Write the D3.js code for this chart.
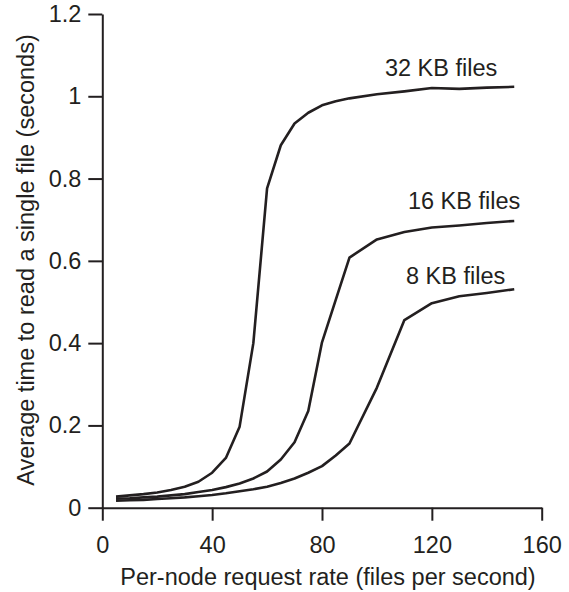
<!DOCTYPE html>
<html>
<head>
<meta charset="utf-8">
<script src="https://cdn.jsdelivr.net/npm/d3@7"></script>
<style>
  body { margin: 0; background: #fff; }
  text { font-family: "Liberation Sans", Arial, sans-serif; fill: #231f20; }
</style>
</head>
<body>
<svg width="569" height="592"></svg>
<script>
let rate = [5, 10, 15, 20, 25, 30, 35, 40, 45, 50, 55, 60, 65, 70, 75, 80, 85, 90, 100, 110, 120, 130, 140, 150];

let kb32 = [0.027, 0.030, 0.033, 0.037, 0.043, 0.051, 0.063, 0.085, 0.121, 0.197, 0.400, 0.776,
  0.881, 0.934, 0.960, 0.978, 0.988, 0.995, 1.005, 1.012, 1.020, 1.018, 1.021, 1.023];
let kb16 = [0.022, 0.023, 0.025, 0.027, 0.030, 0.033, 0.038, 0.043, 0.050, 0.059, 0.071, 0.088,
  0.117, 0.159, 0.235, 0.402, 0.505, 0.608, 0.652, 0.670, 0.681, 0.686, 0.692, 0.697];
let kb8 = [0.017, 0.018, 0.019, 0.021, 0.023, 0.025, 0.028, 0.031, 0.035, 0.040, 0.045, 0.051,
  0.060, 0.071, 0.085, 0.101, 0.127, 0.156, 0.292, 0.456, 0.497, 0.514, 0.522, 0.531];

let seriesNames = ["32 KB files", "16 KB files", "8 KB files"];
let xTicks = [0, 40, 80, 120, 160];
let yTicks = [0, 0.2, 0.4, 0.6, 0.8, 1, 1.2];

let svg = d3.select("svg");
let ink = "#231f20";
let fontSize = "23.5px";

let x = d3.scaleLinear().domain([0, 160]).range([102.3, 541.7]);
let y = d3.scaleLinear().domain([0, 1.2]).range([507.7, 14]);

// axes
let xAxis = svg.append("g")
  .attr("transform", "translate(0,507.7)")
  .call(d3.axisBottom(x).tickValues(xTicks).tickSize(13).tickSizeOuter(0).tickPadding(16).tickFormat(d3.format("d")));
let yAxis = svg.append("g")
  .attr("transform", "translate(102.3,0)")
  .call(d3.axisLeft(y).tickValues(yTicks).tickSize(14).tickSizeOuter(0).tickPadding(7).tickFormat(d => String(+d.toFixed(1))));

[xAxis, yAxis].forEach(function (g) {
  g.selectAll("path, line").attr("stroke", ink).attr("stroke-width", 2);
  g.selectAll("text").style("font-size", fontSize).attr("fill", ink).style("font-family", "Liberation Sans, Arial, sans-serif");
});

// curves
let line = d3.line()
  .x(function (d) { return x(d[0]); })
  .y(function (d) { return y(d[1]); });

let all = [kb32, kb16, kb8];
all.forEach(function (vals) {
  svg.append("path")
    .datum(rate.map(function (r, i) { return [r, vals[i]]; }))
    .attr("fill", "none")
    .attr("stroke", ink)
    .attr("stroke-width", 2.6)
    .attr("stroke-linejoin", "round")
    .attr("d", line);
});

// labels placed relative to the last point of each curve
let labelShift = [[-17, -10.5], [6, -12], [-9, -5.5]];
all.forEach(function (vals, i) {
  let last = vals.length - 1;
  svg.append("text")
    .attr("x", x(rate[last]) + labelShift[i][0])
    .attr("y", y(vals[last]) + labelShift[i][1])
    .attr("text-anchor", "end")
    .style("font-size", fontSize)
    .text(seriesNames[i]);
});

svg.append("text")
  .attr("x", 328)
  .attr("y", 584.5)
  .attr("text-anchor", "middle")
  .style("font-size", fontSize)
  .text("Per-node request rate (files per second)");

svg.append("text")
  .attr("transform", "translate(33.5,260) rotate(-90)")
  .attr("text-anchor", "middle")
  .style("font-size", fontSize)
  .text("Average time to read a single file (seconds)");
</script>
</body>
</html>
